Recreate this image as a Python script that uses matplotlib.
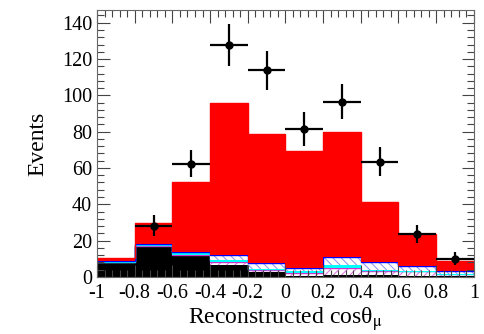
import numpy as np
import matplotlib
matplotlib.use("Agg")
import matplotlib.pyplot as plt
from matplotlib.ticker import MultipleLocator

plt.rcParams['font.family'] = ['Liberation Serif', 'DejaVu Serif']
plt.rcParams['mathtext.fontset'] = 'stix'
plt.rcParams['hatch.linewidth'] = 0.8

# bin edges in reconstructed cos(theta_mu)
edges = np.linspace(-1, 1, 11)

# stacked MC components (events per bin), bottom to top
black = [8.0, 16.7, 11.7, 6.8, 2.8, 0.3, 1.0, 0.8, 0.5, 0.3]
magenta = [0.0, 0.5, 0.6, 1.2, 1.1, 1.7, 3.8, 2.7, 2.5, 1.3]
cyan = [0.3, 0.4, 1.0, 1.5, 0.5, 1.5, 1.8, 0.5, 0.3, 0.2]
blue = [0.2, 0.4, 0.3, 2.6, 3.1, 1.6, 4.2, 4.4, 2.9, 1.5]
red = [1.8, 11.5, 38.7, 83.9, 71.1, 64.3, 68.9, 32.7, 17.3, 5.5]

# data points
data_x = [-0.7, -0.5, -0.3, -0.1, 0.1, 0.3, 0.5, 0.7, 0.9]
data_y = [28.3, 62.4, 127.8, 113.7, 81.5, 96.6, 63.4, 23.5, 10.1]
data_err = [5.8, 7.6, 11.4, 10.7, 9.2, 9.9, 8.0, 5.0, 3.7]

fig = plt.figure(figsize=(4.85, 3.34), dpi=100)
ax = fig.add_axes([0.2, 0.171, 0.777, 0.799])

layers = [
    (black, dict(facecolor='black', edgecolor='black')),
    (magenta, dict(facecolor='white', edgecolor='#e07ae0', hatch='////')),
    (cyan, dict(facecolor='cyan', edgecolor='cyan')),
    (blue, dict(facecolor='white', edgecolor='#9a9aee', hatch='\\\\\\\\')),
    (red, dict(facecolor='red', edgecolor='red')),
]
outline = ['black', '#cc33cc', 'cyan', 'blue', 'red']

base = np.zeros(10)
for (vals, style), oc in zip(layers, outline):
    top = base + np.array(vals)
    ax.stairs(top, edges, baseline=base, fill=True, linewidth=0, **style)
    ax.stairs(top, edges, baseline=None, color=oc, linewidth=1.0)
    base = top

ax.errorbar(data_x, data_y, xerr=0.1, yerr=data_err, fmt='o', color='black',
            markersize=5, elinewidth=1.6, capsize=0, zorder=5)

ax.set_xlim(-1, 1)
ax.set_ylim(0, 147)
ax.xaxis.set_major_locator(MultipleLocator(0.2))
ax.xaxis.set_minor_locator(MultipleLocator(0.04))
ax.yaxis.set_major_locator(MultipleLocator(20))
ax.yaxis.set_minor_locator(MultipleLocator(4))
ax.set_xticks(np.linspace(-1, 1, 11))
ax.set_xticklabels(['-1', '-0.8', '-0.6', '-0.4', '-0.2', '0', '0.2', '0.4', '0.6', '0.8', '1'])
ax.tick_params(which='both', direction='in', top=True, right=True, labelsize=14.5,
               color='#444444')
ax.tick_params(axis='x', pad=5)
ax.tick_params(which='major', length=9, width=0.8)
ax.tick_params(which='minor', length=5, width=0.8)
for s in ax.spines.values():
    s.set_color('#666666')
    s.set_linewidth(0.8)

ax.set_xlabel(r'Reconstructed cosθ$_{\mathrm{\mu}}$', fontsize=17, labelpad=2)
ax.set_ylabel('Events', fontsize=17, labelpad=10)

fig.savefig('out.png', dpi=100)
